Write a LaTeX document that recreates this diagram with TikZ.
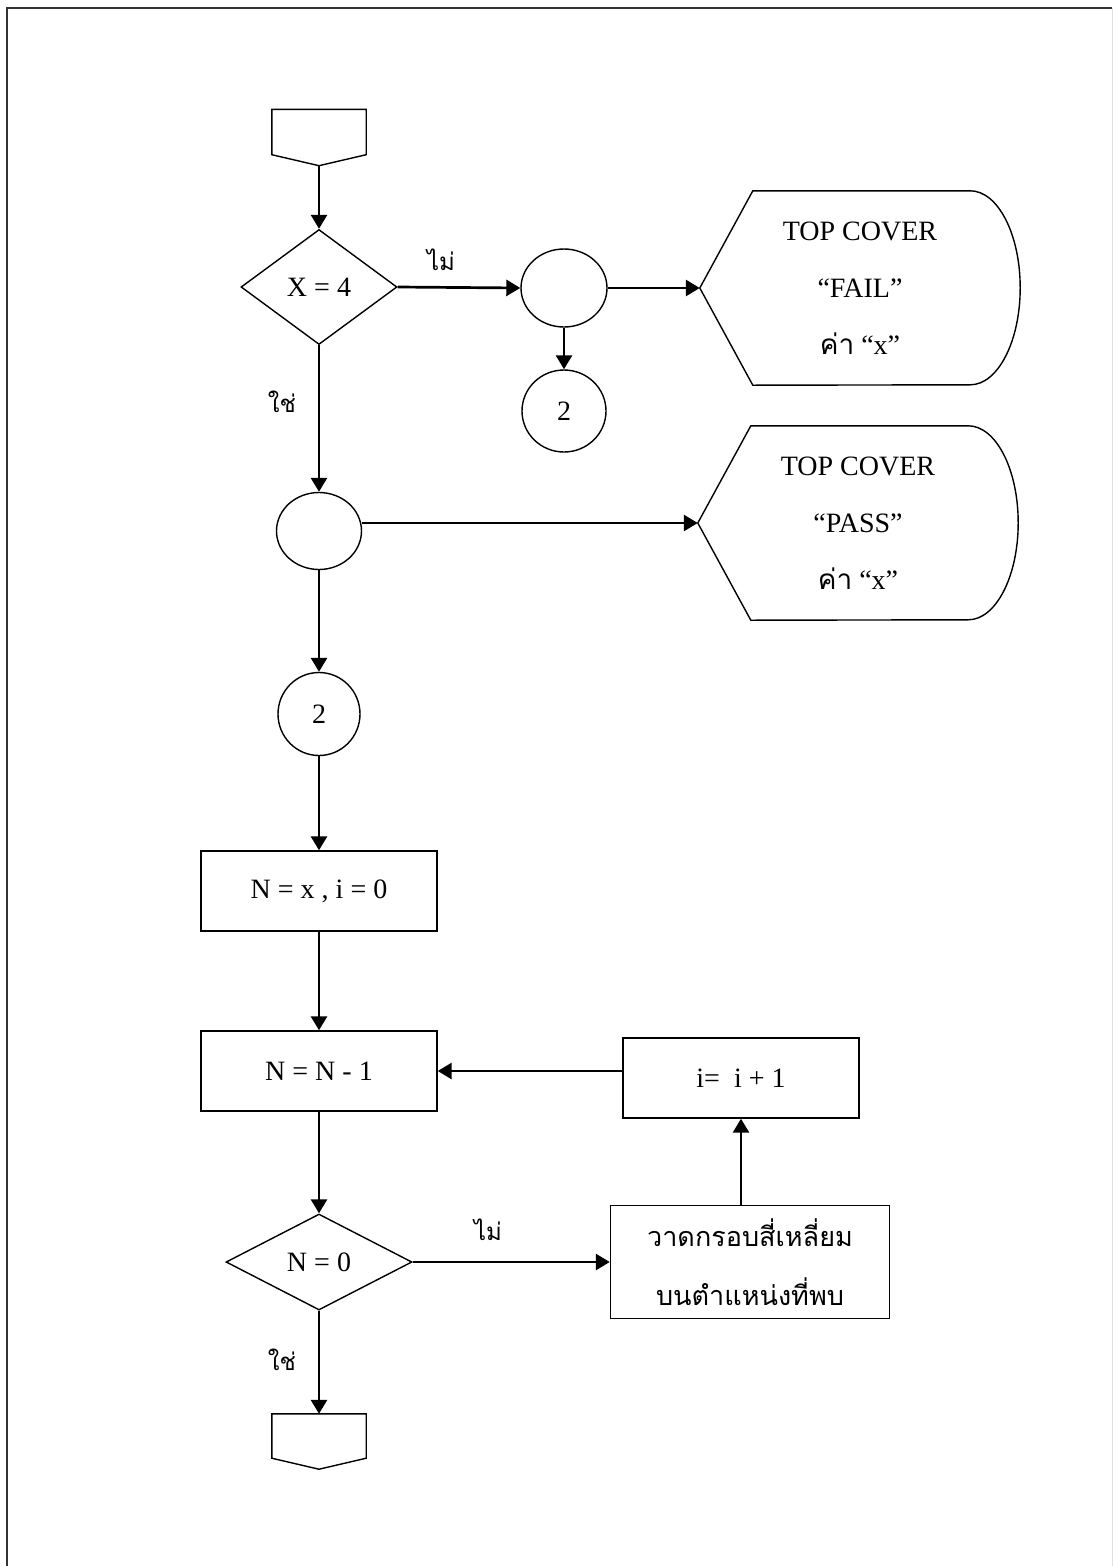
\documentclass[tikz,border=0pt]{standalone}
\usepackage{fontspec}
\setmainfont{Liberation Serif}
\newfontfamily\thaifont[Script=Thai]{Loma}
\usetikzlibrary{shapes.geometric, arrows.meta}

\begin{document}
\begin{tikzpicture}[
        x=1pt, y=-1pt,
        font=\fontsize{28}{57}\selectfont,
        shapeline/.style={draw=black, line width=1.4pt},
        box/.style={rectangle, shapeline, minimum width=236pt, minimum height=80pt, text centered},
        decision/.style={diamond, shapeline, inner sep=0pt},
        joint/.style={ellipse, shapeline, inner sep=0pt},
        offpage/.style={rectangle, minimum width=94pt, minimum height=45pt},
        display/.style={rectangle, minimum width=320pt, minimum height=194pt, align=center},
        answer/.style={font=\thaifont\fontsize{24}{24}\selectfont},
        arrow/.style={line width=2.7pt, -{Triangle[length=14pt, width=16pt]}}
    ]
        \useasboundingbox (0,0) rectangle (1113,1566);
        \draw [line width=2pt, black!80] (7,1566) -- (7,8) -- (1112,8);
        \draw [line width=1pt, black!12] (1112,8) -- (1112,1566);

        \node (start) [offpage] at (319,132) {};
        \node (d1) [decision, aspect=1.4, minimum width=156pt, minimum height=115pt] at (319,287) {X = 4};
        \node (c1) [joint, minimum width=86pt, minimum height=78pt] at (564,288) {};
        \node (c2) [joint, minimum width=84pt, minimum height=82pt] at (564,411) {2};
        \node (fail) [display] at (860,288) {TOP COVER\\“FAIL”\\{\thaifont ค่า} “x”};
        \node (c3) [joint, minimum width=85pt, minimum height=77pt] at (319,531) {};
        \node (pass) [display] at (858,523) {TOP COVER\\“PASS”\\{\thaifont ค่า} “x”};
        \node (c4) [joint, minimum width=82pt, minimum height=83pt] at (319,714) {2};
        \node (init) [box] at (319,891) {N = x , i = 0};
        \node (dec) [box] at (319,1071) {N = N - 1};
        \node (inc) [box] at (741,1078) {i=~~i + 1};
        \node (d2) [decision, aspect=2, minimum width=186pt, minimum height=96pt] at (319,1262) {N = 0};
        \node (mark) [box, minimum width=279pt, minimum height=113pt, align=center,
            font=\thaifont\fontsize{27}{59}\selectfont] at (750,1262) {วาดกรอบสี่เหลี่ยม\\บนตำแหน่งที่พบ};
        \node (stop) [offpage, minimum height=44pt] at (319,1436) {};

        \node (no1) [answer] at (441,260) {ไม่};
        \node (yes1) [answer] at (282,402) {ใช่};
        \node (no2) [answer] at (488,1230) {ไม่};
        \node (yes2) [answer] at (282,1360) {ใช่};

        \foreach \o in {start, stop}
            \draw [shapeline] (\o.south west) -- (\o.north west) -- (\o.north east) -- (\o.south east) -- ([yshift=-11pt]\o.south) -- cycle;
        \foreach \d in {fail, pass}
            \draw [shapeline] (\d.west) -- ([xshift=53pt]\d.north west) -- ([xshift=-50pt]\d.north east)
                arc [start angle=90, end angle=-90, x radius=50pt, y radius=97pt]
                -- ([xshift=53pt]\d.south west) -- cycle;
        \coordinate (starttip) at ([yshift=-11pt]start.south);

        \draw [arrow] (starttip) -- (d1.north);
        \draw [arrow] (d1.east) -- (c1.west);
        \draw [arrow] (c1.east) -- (fail.west);
        \draw [arrow] (c1.south) -- (c2.north);
        \draw [arrow] (d1.south) -- (c3.north);
        \draw [arrow] (c3.east |- pass.west) -- (pass.west);
        \draw [arrow] (c3.south) -- (c4.north);
        \draw [arrow] (c4.south) -- (init.north);
        \draw [arrow] (init.south) -- (dec.north);
        \draw [arrow] (dec.south) -- (d2.north);
        \draw [arrow] (d2.east) -- (mark.west);
        \draw [arrow] (inc.south |- mark.north) -- (inc.south);
        \draw [arrow] (inc.west |- dec.east) -- (dec.east);
        \draw [arrow] (d2.south) -- (stop.north);
    \end{tikzpicture}
\end{document}
